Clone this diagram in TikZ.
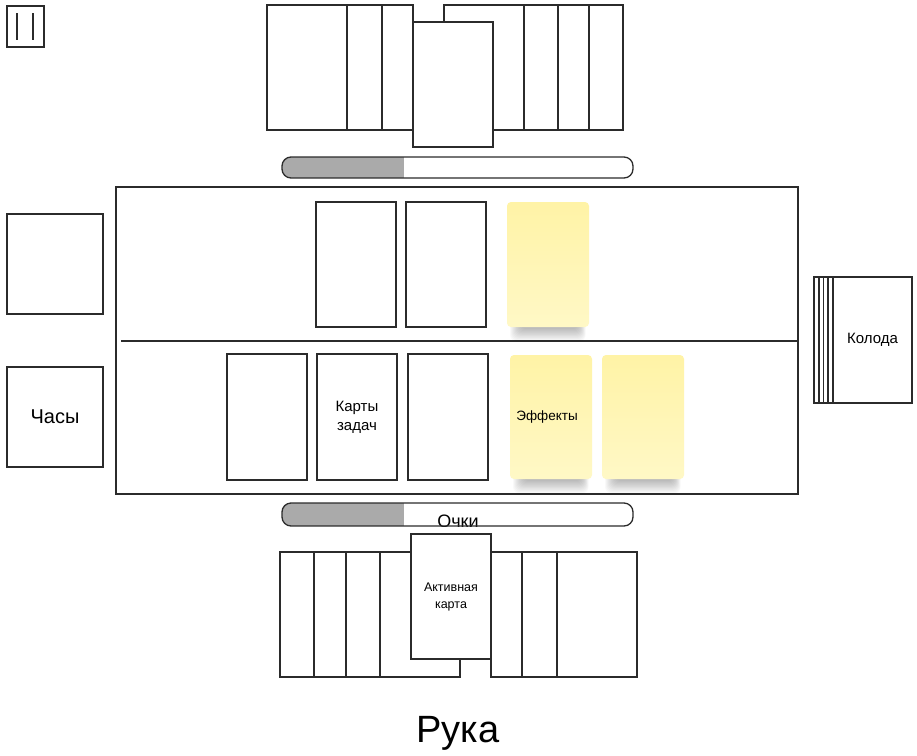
\documentclass[tikz,border=0pt]{standalone}
\usepackage{fontspec}
\setmainfont{Liberation Sans}
\definecolor{ln}{HTML}{2B2B2B}
\definecolor{bargrey}{HTML}{AAAAAA}
\definecolor{stickytop}{HTML}{FFF3A6}
\definecolor{stickybot}{HTML}{FFF8C6}
\newcommand\stickshade[3]{%
  \foreach \i in {0,...,11}{%
    \fill[black, opacity=0.022, rounded corners=6pt]
      (#1+13-\i*0.9, #3-20) rectangle (#2-10+\i*0.6, #3+2+\i*1.1);}}
\begin{document}
\begin{tikzpicture}[x=1pt,y=-1pt,
  outline/.style={draw=ln, line width=1.3pt},
  box/.style={outline, fill=white, inner sep=0pt, outer sep=0pt, anchor=north west, align=center},
  cardbox/.style={box, minimum width=80pt, minimum height=125pt},
  sticky/.style={rounded corners=4pt, top color=stickytop, bottom color=stickybot,
    anchor=north west, inner sep=0pt, outer sep=0pt, align=center,
    minimum width=82pt, minimum height=124pt},
  barshape/.style={rounded corners=9pt},
]
\useasboundingbox (0,0) rectangle (917,755);

% icon
\draw[outline] (7,6) rectangle (44,47);
\draw[ln, line width=1.6pt] (17,13) -- (17,40) (33,13) -- (33,40);

% top opponent hand
\draw[outline, fill=white] (267,5) rectangle (413,130);
\draw[outline] (347,5) -- (347,130) (382,5) -- (382,130);
\draw[outline, fill=white] (444,5) rectangle (623,130);
\draw[outline] (524,5) -- (524,130) (558,5) -- (558,130) (589,5) -- (589,130);
\node[cardbox] (topcard) at (413,22) {};

% top bar
\fill[white, barshape] (282,157) rectangle (633,178);
\begin{scope}
  \clip[barshape] (282,157) rectangle (633,178);
  \fill[bargrey] (282,157) rectangle (404,178);
\end{scope}
\draw[outline, barshape] (282,157) rectangle (633,178);

% board
\node[box, minimum width=682pt, minimum height=307pt] (board) at (116,187) {};
\draw[outline] (121,341) -- (board.east |- 0,341);

% top row
\node[cardbox] (c1) at (316,202) {};
\node[cardbox] (c2) at (406,202) {};
\stickshade{507}{589}{327}
\node[sticky, minimum height=125pt] (s1) at (507,202) {};

% bottom row
\node[cardbox, minimum height=126pt] (b1) at (227,354) {};
\node[cardbox, minimum height=126pt, font=\fontsize{15}{19}\selectfont] (b2) at (317,354) {Карты\\задач};
\node[cardbox, minimum height=126pt] (b3) at (408,354) {};
\stickshade{510}{592}{479}
\stickshade{602}{684}{479}
\node[sticky, font=\fontsize{13.5}{16}\selectfont] (s2) at (510,355) {\hspace*{-8pt}Эффекты};
\node[sticky] (s3) at (602,355) {};

% left boxes
\node[box, minimum width=96pt, minimum height=100pt] (l1) at (7,214) {};
\node[box, minimum width=96pt, minimum height=100pt, font=\fontsize{20}{24}\selectfont] (clock) at (7,367) {Часы};

% deck
\draw[outline, fill=white] (814,277) rectangle (912,403);
\draw[outline] (819,277) -- (819,403) (823.5,277) -- (823.5,403) (828,277) -- (828,403);
\node[box, minimum width=79pt, minimum height=126pt, font=\fontsize{15}{18}\selectfont] (deck) at (833,277) {Колода};

% bottom bar with score
\fill[white, barshape] (282,503) rectangle (633,526);
\begin{scope}
  \clip[barshape] (282,503) rectangle (633,526);
  \fill[bargrey] (282,503) rectangle (404,526);
  \node[anchor=base, inner sep=0pt, font=\fontsize{18}{20}\selectfont] (score) at (458,527) {Очки};
\end{scope}
\draw[outline, barshape] (282,503) rectangle (633,526);

% player hand
\draw[outline, fill=white] (280,552) rectangle (460,677);
\draw[outline] (314,552) -- (314,677) (346,552) -- (346,677) (380,552) -- (380,677);
\draw[outline, fill=white] (491,552) rectangle (637,677);
\draw[outline] (522,552) -- (522,677) (557,552) -- (557,677);
\node[cardbox, font=\fontsize{12.5}{17}\selectfont] (active) at (411,534) {Активная\\карта};

\node[anchor=base, inner sep=0pt, font=\fontsize{38}{44}\selectfont] (hand) at (458,742) {Рука};
\end{tikzpicture}
\end{document}
